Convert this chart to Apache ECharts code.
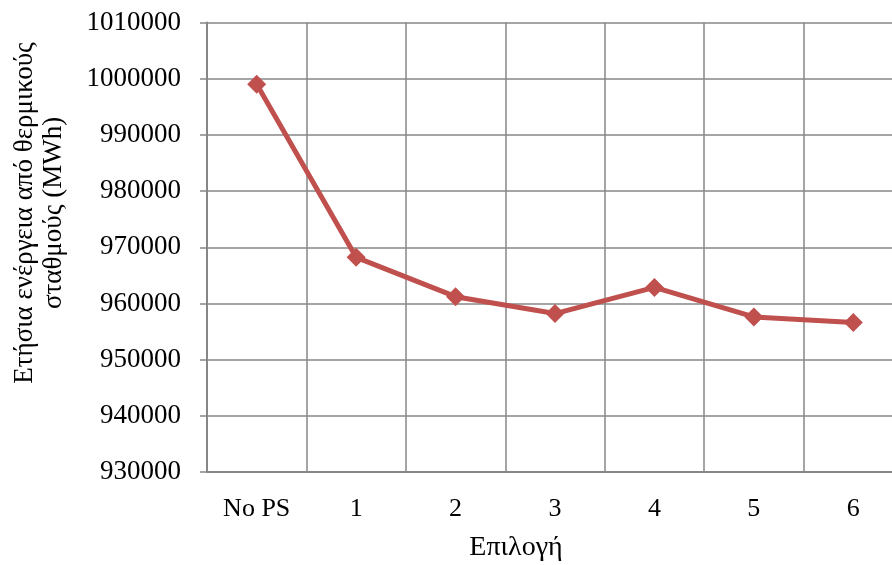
<!DOCTYPE html>
<html>
<head>
<meta charset="utf-8">
<script src="https://cdn.jsdelivr.net/npm/echarts@6/dist/echarts.min.js"></script>
<style>
  html, body { margin: 0; padding: 0; background: #ffffff; }
  #chart { width: 892px; height: 565px; }
</style>
</head>
<body>
<div id="chart"></div>
<script>
// Annual energy from thermal stations per option
const categories = ['No PS', '1', '2', '3', '4', '5', '6'];
const energyMWh = [999000, 968200, 961200, 958200, 962850, 957600, 956600];
const yMin = 930000;
const yMax = 1010000;
const yStep = 10000;

const FONT = "'Liberation Serif', 'Times New Roman', serif";
const GRID_COLOR = '#878787';
const LINE_COLOR = '#C0504D';

const chart = echarts.init(document.getElementById('chart'), null, { renderer: 'canvas' });

chart.setOption({
  backgroundColor: '#ffffff',
  animation: false,
  // plot area runs slightly past the right edge of the canvas
  grid: {
    left: 207, width: 696, top: 22.5, bottom: 93,
    containLabel: false, outerBoundsMode: 'none'
  },
  xAxis: {
    type: 'category',
    data: categories,
    boundaryGap: true,
    axisLine: { show: true, lineStyle: { color: GRID_COLOR, width: 2 } },
    axisTick: { show: false },
    splitLine: { show: true, lineStyle: { color: GRID_COLOR, width: 1.5 } },
    axisLabel: { color: '#000', fontFamily: FONT, fontSize: 26, margin: 24 }
  },
  yAxis: {
    type: 'value',
    min: yMin,
    max: yMax,
    interval: yStep,
    axisLine: { show: true, lineStyle: { color: GRID_COLOR, width: 2 } },
    axisTick: { show: true, length: 7, lineStyle: { color: GRID_COLOR, width: 1.5 } },
    splitLine: { show: true, lineStyle: { color: GRID_COLOR, width: 1.5 } },
    axisLabel: {
      color: '#000', fontFamily: FONT, fontSize: 27, margin: 26,
      formatter: (v) => String(v)
    }
  },
  graphic: [
    {
      type: 'text',
      x: 39,
      y: 213,
      rotation: Math.PI / 2,
      style: {
        text: 'Ετήσια ενέργεια από θερμικούς\nσταθμούς (MWh)',
        fill: '#000',
        font: '27px ' + FONT,
        lineHeight: 29,
        align: 'center',
        verticalAlign: 'middle'
      }
    },
    {
      type: 'text',
      x: 516,
      y: 548,
      style: {
        text: 'Επιλογή',
        fill: '#000',
        font: '28px ' + FONT,
        align: 'center',
        verticalAlign: 'middle'
      }
    }
  ],
  series: [
    {
      type: 'line',
      data: energyMWh,
      symbol: 'diamond',
      symbolSize: 19,
      lineStyle: { color: LINE_COLOR, width: 5 },
      itemStyle: { color: LINE_COLOR },
      label: { show: false }
    }
  ]
});
</script>
</body>
</html>
